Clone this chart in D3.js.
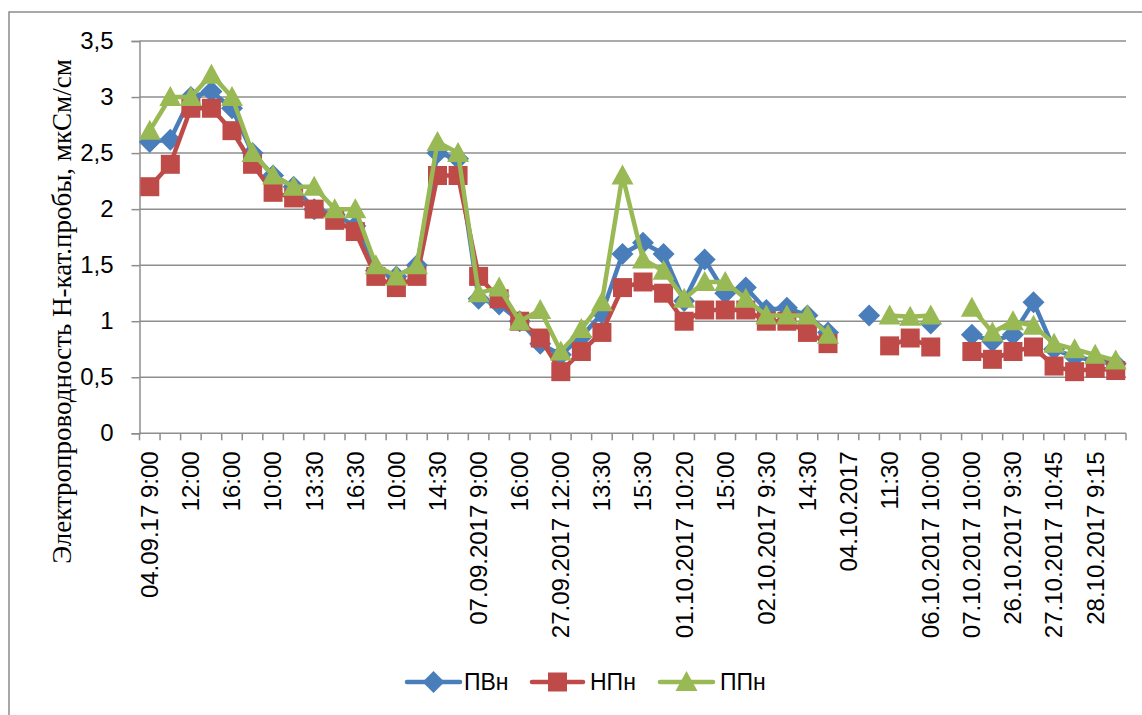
<!DOCTYPE html>
<html>
<head>
<meta charset="utf-8">
<script src="https://cdn.jsdelivr.net/npm/d3@7"></script>
<style>
  body { margin: 0; background: #fff; }
  svg { display: block; }
</style>
</head>
<body>
<div id="chart"></div>
<script>
// category labels (only every other one is shown on the axis)
const labels = [
    "04.09.17 9:00", "", "12:00", "", "16:00", "", "10:00", "", "13:30", "", "16:30", "",
    "10:00", "", "14:30", "", "07.09.2017 9:00", "", "16:00", "", "27.09.2017 12:00", "",
    "13:30", "", "15:30", "", "01.10.2017 10:20", "", "15:00", "", "02.10.2017 9:30", "",
    "14:30", "", "04.10.2017", "", "11:30", "", "06.10.2017 10:00", "", "07.10.2017 10:00", "",
    "26.10.2017 9:30", "", "27.10.2017 10:45", "", "28.10.2017 9:15", ""
];

const pvn = [2.6, 2.62, 3.0, 3.05, 2.9, 2.5, 2.3, 2.2, 2.0, 1.95, 1.85, 1.45,
    1.4, 1.5, 2.5, 2.45, 1.2, 1.15, 1.0, 0.8, 0.7, 0.86, 1.07, 1.6,
    1.7, 1.6, 1.18, 1.55, 1.25, 1.3, 1.1, 1.12, 1.05, 0.9, null, 1.05,
    null, null, 0.98, null, 0.88, 0.82, 0.88, 1.17, 0.75, 0.68, 0.65, 0.62];

const npn = [2.2, 2.4, 2.9, 2.9, 2.7, 2.4, 2.15, 2.1, 2.0, 1.9, 1.8, 1.4,
    1.3, 1.4, 2.3, 2.3, 1.4, 1.2, 1.0, 0.85, 0.55, 0.73, 0.9, 1.3,
    1.35, 1.25, 1.0, 1.1, 1.1, 1.1, 1.0, 1.0, 0.9, 0.8, null, null,
    0.78, 0.85, 0.77, null, 0.73, 0.66, 0.73, 0.77, 0.6, 0.55, 0.58, 0.56];

const ppn = [2.7, 3.0, 3.0, 3.2, 3.0, 2.5, 2.3, 2.2, 2.2, 2.0, 2.0, 1.5,
    1.4, 1.5, 2.6, 2.5, 1.25, 1.3, 1.0, 1.1, 0.73, 0.93, 1.17, 2.3,
    1.55, 1.45, 1.2, 1.35, 1.35, 1.2, 1.05, 1.05, 1.05, 0.88, null, null,
    1.05, 1.04, 1.05, null, 1.12, 0.9, 1.0, 0.96, 0.8, 0.75, 0.7, 0.65];

const yTicks = [0, 0.5, 1, 1.5, 2, 2.5, 3, 3.5];

const series = [
    { name: "ПВн", values: pvn, color: "#4A7EBB", marker: "diamond" },
    { name: "НПн", values: npn, color: "#BE4B48", marker: "square" },
    { name: "ППн", values: ppn, color: "#98B954", marker: "triangle" }
];

const W = 1142, H = 715;
const plot = { left: 139.5, right: 1126, top: 41, bottom: 433.3 };

const svg = d3.select("#chart").append("svg")
    .attr("width", W)
    .attr("height", H);

// outer chart border (only left/top edges fall inside the picture)
svg.append("rect")
    .attr("x", 9).attr("y", 12)
    .attr("width", 1200).attr("height", 800)
    .attr("fill", "none")
    .attr("stroke", "#8c8c8c")
    .attr("stroke-width", 1.5);

const x = d3.scaleBand().domain(d3.range(labels.length)).range([plot.left, plot.right]);
const y = d3.scaleLinear().domain([0, 3.5]).range([plot.bottom, plot.top]);

// gridlines
svg.append("g")
    .selectAll("line")
    .data(yTicks.filter(d => d > 0))
    .join("line")
    .attr("x1", plot.left).attr("x2", plot.right)
    .attr("y1", d => y(d)).attr("y2", d => y(d))
    .attr("stroke", "#8e8e8e")
    .attr("stroke-width", 1.5);

// Y axis
const yAxis = svg.append("g")
    .attr("transform", `translate(${plot.left},0)`)
    .call(d3.axisLeft(y).tickValues(yTicks).tickSize(8).tickPadding(18)
        .tickFormat(d => String(d).replace(".", ",")));
yAxis.select(".domain").attr("stroke", "#8e8e8e").attr("stroke-width", 1.5);
yAxis.selectAll(".tick line").attr("stroke", "#8e8e8e").attr("stroke-width", 1.5);
yAxis.selectAll("text")
    .style("font-family", "'Liberation Sans', Arial, sans-serif")
    .style("font-size", "24px")
    .attr("fill", "#000");

// X axis: tick marks between categories
const bounds = d3.range(labels.length + 1).map(i => plot.left + i * x.bandwidth());
svg.append("line")
    .attr("x1", plot.left).attr("x2", plot.right)
    .attr("y1", plot.bottom).attr("y2", plot.bottom)
    .attr("stroke", "#8e8e8e").attr("stroke-width", 1.5);
svg.append("g")
    .selectAll("line")
    .data(bounds)
    .join("line")
    .attr("x1", d => d).attr("x2", d => d)
    .attr("y1", plot.bottom).attr("y2", plot.bottom + 7)
    .attr("stroke", "#8e8e8e").attr("stroke-width", 1.5);

svg.append("g")
    .selectAll("text")
    .data(d3.range(labels.length).filter(i => labels[i] !== ""))
    .join("text")
    .attr("transform", i => `translate(${x(i) + x.bandwidth() / 2},${plot.bottom + 18}) rotate(-90)`)
    .attr("dy", "0.35em")
    .attr("text-anchor", "end")
    .style("font-family", "'Liberation Sans', Arial, sans-serif")
    .style("font-size", "24px")
    .text(i => labels[i]);

// Y axis title
svg.append("text")
    .attr("transform", `translate(62,${(plot.top + 582) / 2}) rotate(-90)`)
    .attr("dy", "0.35em")
    .attr("text-anchor", "middle")
    .style("font-family", "'Liberation Serif', 'Times New Roman', serif")
    .style("font-size", "27px")
    .text("Электропроводность Н-кат.пробы, мкСм/см");

// marker shapes
function markerPath(type) {
    if (type === "diamond") return "M0,-11L11,0L0,11L-11,0Z";
    if (type === "square") return "M-9.5,-9.5H9.5V9.5H-9.5Z";
    return "M0,-11L11,9H-11Z";
}

const cx = i => x(i) + x.bandwidth() / 2;

series.forEach(s => {
    const line = d3.line()
        .defined(d => d != null)
        .x((d, i) => cx(i))
        .y(d => y(d));
    svg.append("path")
        .datum(s.values)
        .attr("d", line)
        .attr("fill", "none")
        .attr("stroke", s.color)
        .attr("stroke-width", 4.5)
        .attr("stroke-linejoin", "round")
        .attr("stroke-linecap", "round");
    svg.append("g")
        .selectAll("path")
        .data(s.values.map((v, i) => ({ v, i })).filter(d => d.v != null))
        .join("path")
        .attr("transform", d => `translate(${cx(d.i)},${y(d.v)})`)
        .attr("d", markerPath(s.marker))
        .attr("fill", s.color);
});

// legend
const legendItems = [
    { x0: 407, x1: 460, tx: 464 },
    { x0: 532, x1: 583, tx: 590 },
    { x0: 660, x1: 713, tx: 720 }
];
const legendY = 682;
series.forEach((s, k) => {
    const li = legendItems[k];
    const g = svg.append("g");
    g.append("line")
        .attr("x1", li.x0).attr("x2", li.x1)
        .attr("y1", legendY).attr("y2", legendY)
        .attr("stroke", s.color)
        .attr("stroke-width", 4.5)
        .attr("stroke-linecap", "round");
    g.append("path")
        .attr("transform", `translate(${(li.x0 + li.x1) / 2},${legendY})`)
        .attr("d", markerPath(s.marker))
        .attr("fill", s.color);
    g.append("text")
        .attr("x", li.tx).attr("y", legendY)
        .attr("dy", "0.35em")
        .style("font-family", "'Liberation Sans', Arial, sans-serif")
        .style("font-size", "23px")
        .text(s.name);
});
</script>
</body>
</html>
